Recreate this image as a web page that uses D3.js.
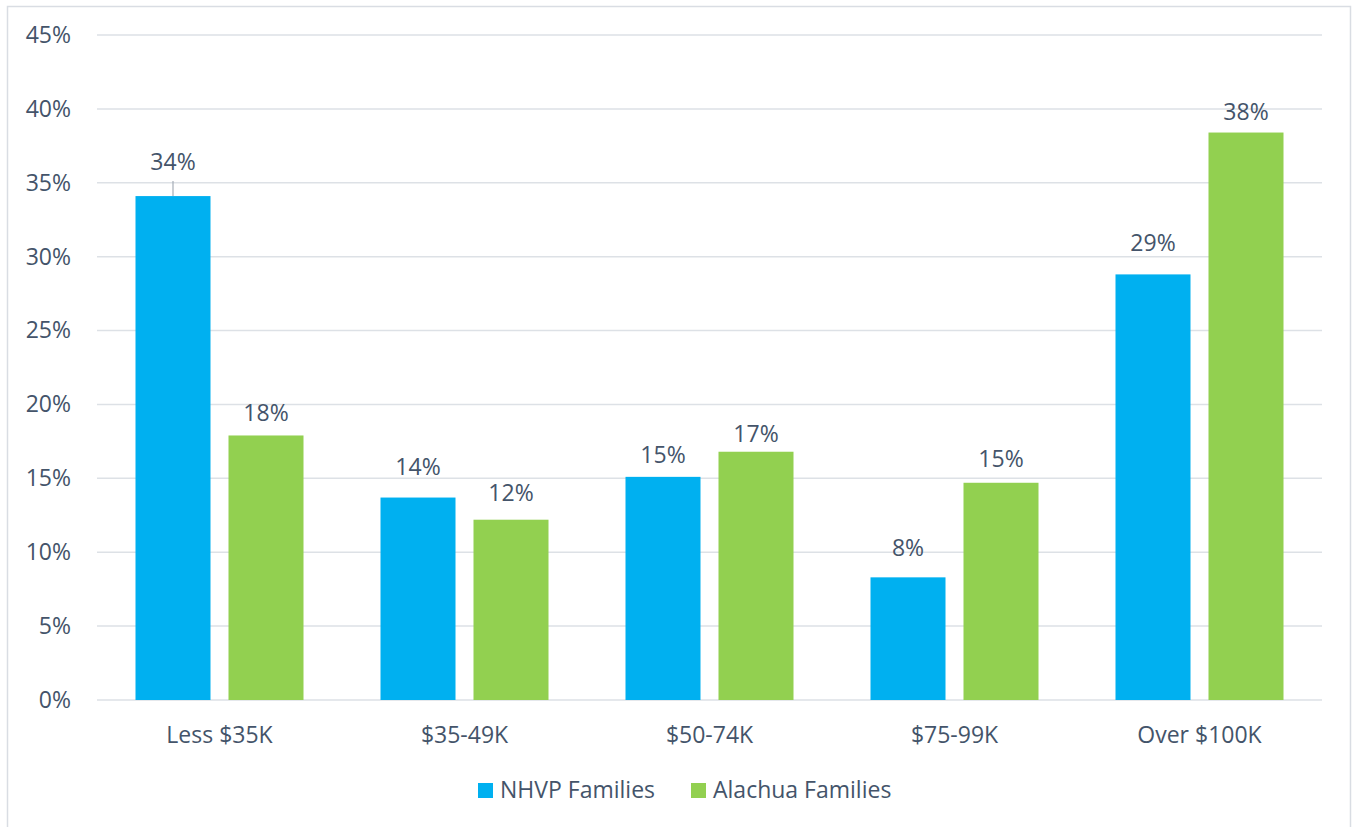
<!DOCTYPE html>
<html><head><meta charset="utf-8">
<script src="https://cdn.jsdelivr.net/npm/d3@7"></script>
<style>
html,body{margin:0;padding:0;background:#fff;}
svg text{font-family:"Open Sans",sans-serif;fill:#44546A;}
</style></head>
<body>
<svg id="c" width="1354" height="827"></svg>
<script>
const categories = ["Less $35K","$35-49K","$50-74K","$75-99K","Over $100K"];
const seriesNames = ["NHVP Families","Alachua Families"];
const nhvp = [34.1, 13.7, 15.1, 8.3, 28.8];
const alachua = [17.9, 12.2, 16.8, 14.7, 38.4];
const nhvpLabels = ["34%","14%","15%","8%","29%"];
const alachuaLabels = ["18%","12%","17%","15%","38%"];
const yTicks = [0,5,10,15,20,25,30,35,40,45];
const colors = ["#00B0F0","#92D050"];

(function(){
const FS = 23;
// label baseline gaps above each bar (layout, as placed in the reference)
const labelGap = [[26,23,14,21,23],[14,19,10,16,13]];
const svg = d3.select("#c");
// outer border
svg.append("rect").attr("x",7.5).attr("y",6.5).attr("width",1343).attr("height",830)
  .attr("fill","none").attr("stroke","#D9DDE3").attr("stroke-width",1.5);

const pl=97, pr=1322, pt=35, pb=700;
const x = d3.scaleBand().domain(categories).range([pl,pr]);
const y = d3.scaleLinear().domain([0,45]).range([pb,pt]);

// gridlines
svg.append("g").selectAll("line").data(yTicks).join("line")
  .attr("x1",pl).attr("x2",pr).attr("y1",d=>y(d)).attr("y2",d=>y(d))
  .attr("stroke","#DDE1E6").attr("stroke-width",1.5);

// y axis labels
const yAxis = d3.axisLeft(y).tickValues(yTicks).tickFormat(d=>d+"%").tickSize(0).tickPadding(0);
const gy = svg.append("g").attr("transform",`translate(71,0)`).call(yAxis);
gy.select(".domain").remove();
gy.selectAll("text").attr("font-size",FS).attr("font-family","'Open Sans',sans-serif").attr("fill","#44546A");

// x axis
const xAxis = d3.axisBottom(x).tickSize(0).tickPadding(0);
const gx = svg.append("g").attr("transform",`translate(0,${pb})`).call(xAxis);
gx.select(".domain").remove();
gx.selectAll("text").attr("font-size",FS).attr("dy",null).attr("y",43).attr("font-family","'Open Sans',sans-serif").attr("fill","#44546A");

const bw = 75, gap = 18;
const series = [nhvp, alachua];
const labels = [nhvpLabels, alachuaLabels];
series.forEach((vals,si)=>{
  const off = si===0 ? -gap/2-bw : gap/2;
  svg.append("g").selectAll("rect").data(vals).join("rect")
    .attr("x",(d,i)=>x(categories[i])+x.bandwidth()/2+off)
    .attr("y",d=>y(d)).attr("width",bw).attr("height",d=>pb-y(d))
    .attr("fill",colors[si]);
  svg.append("g").selectAll("text").data(vals).join("text")
    .attr("x",(d,i)=>x(categories[i])+x.bandwidth()/2+off+bw/2)
    .attr("y",(d,i)=> y(d)-labelGap[si][i])
    .attr("text-anchor","middle").attr("font-size",FS)
    .text((d,i)=>labels[si][i]);
});
// leader line for first label
const lx = x(categories[0])+x.bandwidth()/2-gap/2-bw/2;
svg.append("line")
  .attr("x1",lx).attr("x2",lx)
  .attr("y1",y(nhvp[0])-15).attr("y2",y(nhvp[0]))
  .attr("stroke","#A6AEB8").attr("stroke-width",1.2);

// legend
const legX=[478,691];
seriesNames.forEach((n,i)=>{
  svg.append("rect").attr("x",legX[i]).attr("y",783).attr("width",15).attr("height",15).attr("fill",colors[i]);
  svg.append("text").attr("x",legX[i]+22).attr("y",798).attr("font-size",FS).text(n);
});
})();
</script>
</body></html>
